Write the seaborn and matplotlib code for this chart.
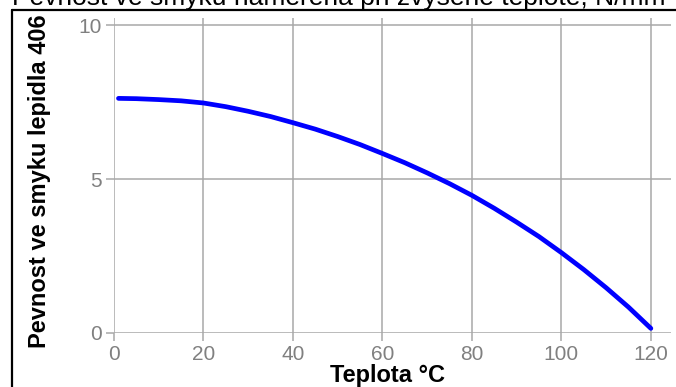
import matplotlib
matplotlib.use("Agg")
import matplotlib.pyplot as plt
import seaborn as sns
import pandas as pd
from matplotlib.lines import Line2D

# values
teplota = [1, 5, 10, 15, 20, 25, 30, 35, 40, 45, 50, 55, 60,
           65, 70, 75, 80, 85, 90, 95, 100, 105, 110, 115, 120]
pevnost = [7.62, 7.61, 7.58, 7.54, 7.47, 7.35, 7.20, 7.03, 6.83, 6.62, 6.38, 6.12, 5.83,
           5.53, 5.20, 4.85, 4.47, 4.05, 3.60, 3.13, 2.61, 2.06, 1.47, 0.84, 0.15]
x_ticks = [0, 20, 40, 60, 80, 100, 120]
y_ticks = [0, 5, 10]

title = "Pevnost ve smyku naměřená při zvýšené teplotě, N/mm"
ylabel = "Pevnost ve smyku lepidla 406"
xlabel = "Teplota °C"

df = pd.DataFrame({"teplota": teplota, "pevnost": pevnost})

sns.set_theme(style="white")
plt.rcParams["font.family"] = ["Liberation Sans", "DejaVu Sans"]

fig = plt.figure(figsize=(6.76, 3.87), dpi=100)
ax = fig.add_axes([114 / 676, 54 / 387, 557 / 676, 315 / 387])

sns.lineplot(data=df, x="teplota", y="pevnost", color="#0000ff", linewidth=3.4, ax=ax)

ax.set_xlim(0, 124.5)
ax.set_ylim(0, 10.23)
ax.set_xticks(x_ticks)
ax.set_yticks(y_ticks)
ax.set_xlabel("")
ax.set_ylabel("")
ax.grid(True, color="#a8a8a8", linewidth=1.1)
ax.set_axisbelow(True)
for s in ax.spines.values():
    s.set_visible(False)
ax.tick_params(axis="both", direction="out", length=5.5, width=1.1, color="#a8a8a8",
               labelcolor="#808080", labelsize=15, pad=3, left=True, bottom=True)

# labels and title placed in figure space like the original
fig.text(12 / 676, 1 - 5 / 387, title, fontsize=19, ha="left", va="baseline", color="black")
fig.text(40 / 676, 39 / 387, ylabel, fontsize=17, fontweight="bold", rotation=90,
         ha="center", va="bottom", color="black")
fig.text(387 / 676, 5 / 387, xlabel, fontsize=17, fontweight="bold", ha="center",
         va="baseline", color="black")

# black frame (left and top edge)
fig.add_artist(Line2D([12 / 676, 12 / 676], [0, 1 - 10 / 387], color="black", linewidth=1.6))
fig.add_artist(Line2D([12 / 676, 1], [1 - 10 / 387, 1 - 10 / 387], color="black", linewidth=1.6))

fig.savefig("out.png", dpi=100)
